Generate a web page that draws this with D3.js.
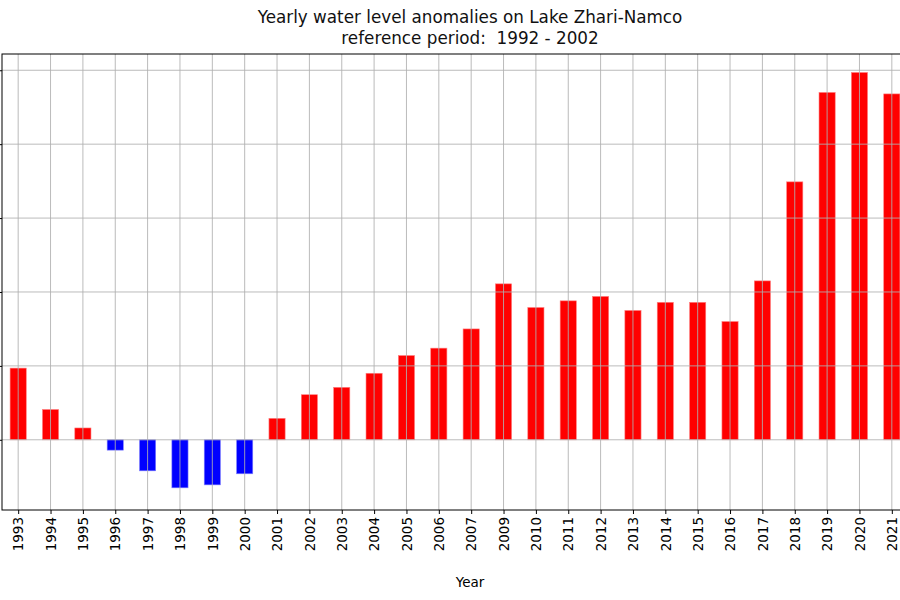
<!DOCTYPE html>
<html>
<head>
<meta charset="utf-8">
<script src="https://cdn.jsdelivr.net/npm/d3@7"></script>
<style>
  body { margin: 0; background: #fff; }
  text { font-family: "DejaVu Sans", sans-serif; }
</style>
</head>
<body>
<div id="viz"></div>
<script>
// years shown (2008 missing in the source)
const years = ['1993','1994','1995','1996','1997','1998','1999','2000','2001','2002',
               '2003','2004','2005','2006','2007','2009','2010','2011','2012','2013',
               '2014','2015','2016','2017','2018','2019','2020','2021']

// anomalies (m)
const anomalies = [0.97, 0.41, 0.16, -0.14, -0.42, -0.65, -0.61, -0.46, 0.29, 0.61,
                   0.71, 0.90, 1.14, 1.24, 1.50, 2.11, 1.79, 1.88, 1.94, 1.75,
                   1.86, 1.86, 1.60, 2.15, 3.49, 4.70, 4.97, 4.68]

const yTicks = [0, 1, 2, 3, 4, 5]

const titleLines = ['Yearly water level anomalies on Lake Zhari-Namco',
                    'reference period:  1992 - 2002']

let width = 900,
    height = 600

let mLeft = 2, mRight = 908, mTop = 54, mBottom = 510

// Create xScale (positions are category index)
let xScale = d3.scaleLinear()
               .domain([-0.5, years.length - 0.5])
               .range([mLeft, mRight])

// Create yScale
let yScale = d3.scaleLinear()
               .domain([-0.95, 5.22])
               .range([mBottom, mTop])

let barW = (xScale(1) - xScale(0)) * 0.5

// Setup & append SVG
let svg = d3.select('#viz')
            .append('svg')
            .attr('width', width)
            .attr('height', height)
            .style('background', '#fff')

// bars
svg.append('g')
   .selectAll('rect')
   .data(anomalies)
   .enter()
     .append('rect')
     .attr('x', (d, i) => xScale(i) - barW / 2)
     .attr('width', barW)
     .attr('y', d => yScale(Math.max(0, d)))
     .attr('height', d => Math.abs(yScale(d) - yScale(0)))
     .style('fill', d => d < 0 ? '#0000ff' : '#ff0000')
     .style('stroke', d => d < 0 ? '#8080ff' : '#ff8080')
     .style('stroke-width', 0.6)

// grid on top of the bars
let grid = svg.append('g')
grid.selectAll('.gx')
    .data(years)
    .enter()
      .append('line')
      .attr('x1', (d, i) => xScale(i))
      .attr('x2', (d, i) => xScale(i))
      .attr('y1', mTop)
      .attr('y2', mBottom)
grid.selectAll('.gy')
    .data(yTicks)
    .enter()
      .append('line')
      .attr('x1', mLeft)
      .attr('x2', mRight)
      .attr('y1', d => yScale(d))
      .attr('y2', d => yScale(d))
grid.selectAll('line')
    .style('stroke', '#b0b0b0')
    .style('stroke-width', 1)
    .style('opacity', 0.85)

// x axis
let xAxis = d3.axisBottom(xScale)
              .tickValues(d3.range(years.length))
              .tickFormat(i => years[i])
              .tickSize(4)
              .tickSizeOuter(0)
let gx = svg.append('g')
            .attr('transform', `translate(0,${mBottom})`)
            .call(xAxis)
gx.select('.domain').remove()
gx.selectAll('.tick line').style('stroke', '#000')
gx.selectAll('.tick text')
  .style('font-size', '13.5px')
  .style('font-family', 'DejaVu Sans, sans-serif')
  .attr('fill', '#000')
  .attr('transform', 'rotate(-90)')
  .attr('text-anchor', 'end')
  .attr('x', -7)
  .attr('y', 0)
  .attr('dy', '0.35em')

// y axis: the labels sit off the left edge in the source, only ticks show
let yAxis = d3.axisLeft(yScale)
              .tickValues(yTicks)
              .tickSize(4)
              .tickFormat('')
              .tickSizeOuter(0)
let gy = svg.append('g')
            .attr('transform', `translate(${mLeft},0)`)
            .call(yAxis)
gy.select('.domain').remove()
gy.selectAll('.tick line').style('stroke', '#000')
gy.selectAll('.tick text').remove()

// spines
svg.append('rect')
   .attr('x', mLeft)
   .attr('y', mTop)
   .attr('width', mRight - mLeft)
   .attr('height', mBottom - mTop)
   .style('fill', 'none')
   .style('stroke', '#000')
   .style('stroke-width', 1)

// title
svg.append('g')
   .selectAll('text')
   .data(titleLines)
   .enter()
     .append('text')
     .attr('x', 470)
     .attr('y', (d, i) => 23 + i * 21)
     .attr('text-anchor', 'middle')
     .style('font-size', '16.8px')
     .style('white-space', 'pre')
     .style('fill', '#111')
     .text(d => d)

// x label
svg.append('text')
   .attr('x', 470)
   .attr('y', 587)
   .attr('text-anchor', 'middle')
   .style('font-size', '13.5px')
   .text('Year')
</script>
</body>
</html>
